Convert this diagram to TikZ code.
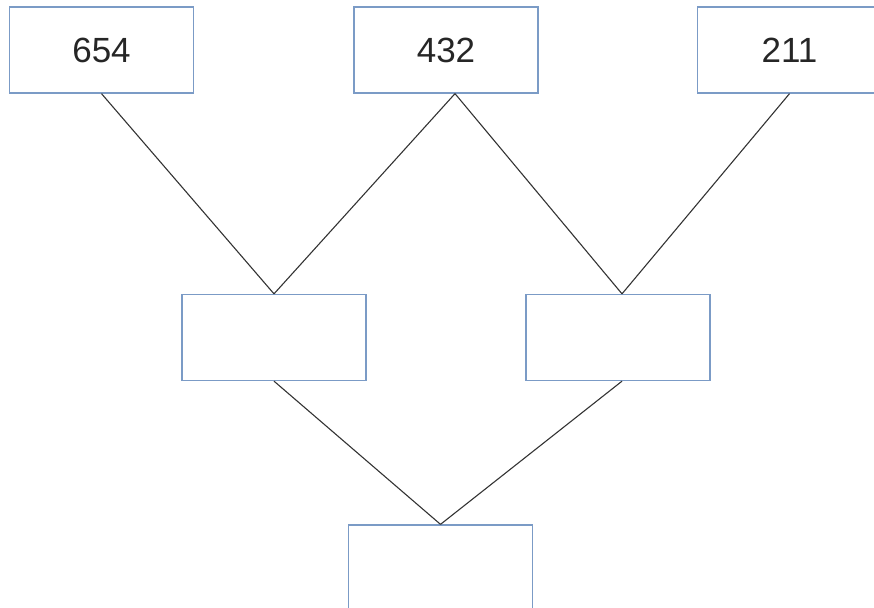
\documentclass[tikz,border=0pt]{standalone}
\usepackage{fontspec}
\setmainfont{Liberation Sans}
\definecolor{boxblue}{HTML}{7B9BC6}
\definecolor{linegrey}{HTML}{333333}
\begin{document}
\begin{tikzpicture}[x=1pt,y=-1pt,
  box/.style={draw=boxblue,line width=1.3pt,fill=white,minimum width=184pt,minimum height=86pt,inner sep=0pt,font=\fontsize{35}{40}\selectfont,text=black!85},
  link/.style={draw=linegrey,line width=1.1pt}]
\useasboundingbox (0,0) rectangle (874,607);
\clip (0,0) rectangle (874,607);
\node[box] (a) at (101.5,50) {654};
\node[box] (b) at (446,50) {432};
\node[box] (c) at (789.5,50) {211};
\node[box] (d) at (274,337.5) {};
\node[box] (e) at (618,337.5) {};
\node[box] (f) at (440.5,568) {};
\draw[link] (a.south) -- (d.north);
\draw[link] ([xshift=9pt]b.south) -- (d.north);
\draw[link] ([xshift=9pt]b.south) -- ([xshift=4pt]e.north);
\draw[link] (c.south) -- ([xshift=4pt]e.north);
\draw[link] (d.south) -- (f.north);
\draw[link] ([xshift=4pt]e.south) -- (f.north);
\end{tikzpicture}
\end{document}
